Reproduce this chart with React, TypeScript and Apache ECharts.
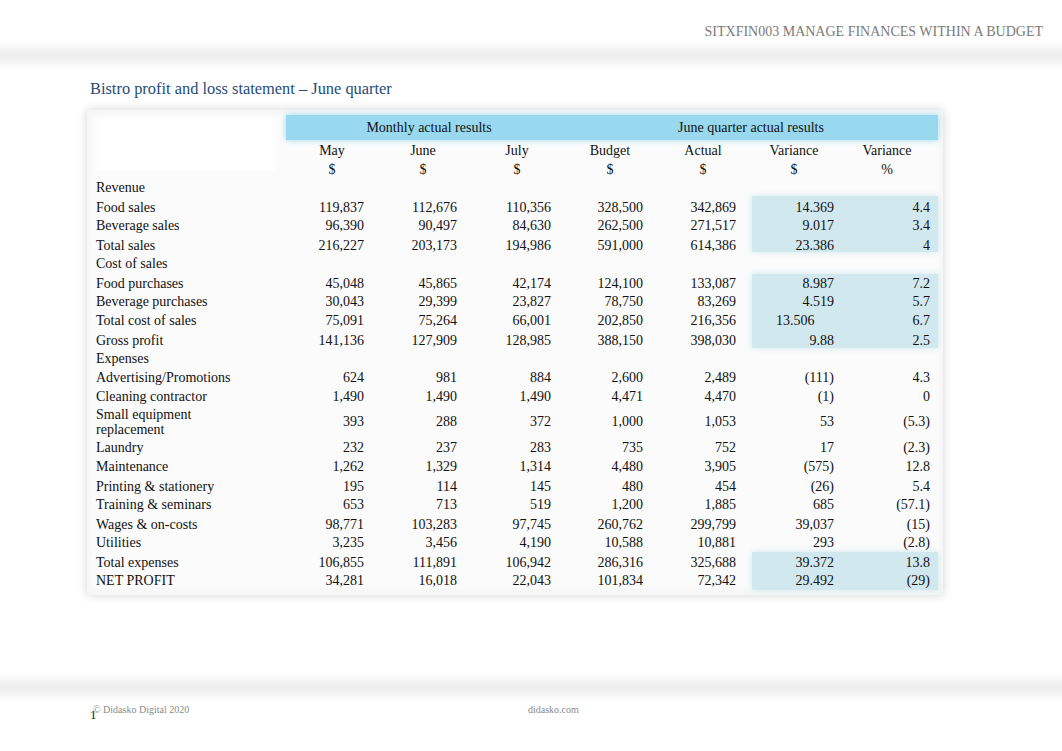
import React, { useEffect, useRef } from "react";
import * as echarts from "echarts";

// ---- Data ----
const docHeader = "SITXFIN003 MANAGE FINANCES WITHIN A BUDGET";
const tableTitle = "Bistro profit and loss statement – June quarter";
const groupHeaders = ["Monthly actual results", "June quarter actual results"];
const columnHeaders = ["May", "June", "July", "Budget", "Actual", "Variance", "Variance"];
const unitHeaders = ["$", "$", "$", "$", "$", "$", "%"];
const rowLabels = [
  "Revenue", "Food sales", "Beverage sales", "Total sales", "Cost of sales",
  "Food purchases", "Beverage purchases", "Total cost of sales", "Gross profit", "Expenses",
  "Advertising/Promotions", "Cleaning contractor", "Small equipment\nreplacement", "Laundry", "Maintenance",
  "Printing & stationery", "Training & seminars", "Wages & on-costs", "Utilities", "Total expenses", "NET PROFIT",
];
const mayValues = ["", "119,837", "96,390", "216,227", "", "45,048", "30,043", "75,091", "141,136", "", "624", "1,490", "393", "232", "1,262", "195", "653", "98,771", "3,235", "106,855", "34,281"];
const juneValues = ["", "112,676", "90,497", "203,173", "", "45,865", "29,399", "75,264", "127,909", "", "981", "1,490", "288", "237", "1,329", "114", "713", "103,283", "3,456", "111,891", "16,018"];
const julyValues = ["", "110,356", "84,630", "194,986", "", "42,174", "23,827", "66,001", "128,985", "", "884", "1,490", "372", "283", "1,314", "145", "519", "97,745", "4,190", "106,942", "22,043"];
const budgetValues = ["", "328,500", "262,500", "591,000", "", "124,100", "78,750", "202,850", "388,150", "", "2,600", "4,471", "1,000", "735", "4,480", "480", "1,200", "260,762", "10,588", "286,316", "101,834"];
const actualValues = ["", "342,869", "271,517", "614,386", "", "133,087", "83,269", "216,356", "398,030", "", "2,489", "4,470", "1,053", "752", "3,905", "454", "1,885", "299,799", "10,881", "325,688", "72,342"];
const varianceDollar = ["", "14.369", "9.017", "23.386", "", "8.987", "4.519", "13.506", "9.88", "", "(111)", "(1)", "53", "17", "(575)", "(26)", "685", "39,037", "293", "39.372", "29.492"];
const variancePercent = ["", "4.4", "3.4", "4", "", "7.2", "5.7", "6.7", "2.5", "", "4.3", "0", "(5.3)", "(2.3)", "12.8", "5.4", "(57.1)", "(15)", "(2.8)", "13.8", "(29)"];
const footerLeft = "© Didasko Digital 2020";
const footerCenter = "didasko.com";
const pageNumber = "1";

// ---- Layout (positions only) ----
const ROW_Y = [187, 207, 225, 245, 263, 283, 301, 320, 340, 358, 377, 396, 421, 447, 466, 486, 504, 524, 542, 562, 580];
const COL_RIGHT = [364, 457, 551, 643, 736, 834, 930];
const COL_CENTER = [332, 423, 517, 610, 703, 794, 887];
// cell (column, row) that is left-aligned in the original, with its left edge
const LEFT_ALIGNED_CELL = { col: 5, row: 7, x: 776 };
const FONT = '"Liberation Serif", "Times New Roman", serif';

function txt(text: string, x: number, y: number, size: number, fill: string, align = "left") {
  return {
    type: "text",
    x,
    y,
    silent: true,
    z: 10,
    style: {
      text,
      fill,
      font: `${size}px ${FONT}`,
      align,
      verticalAlign: "middle",
      textAlign: align,
      textVerticalAlign: "middle",
    },
  };
}

function band(y: number, h: number) {
  return {
    type: "rect",
    shape: { x: 0, y, width: 1062, height: h },
    silent: true,
    style: {
      fill: new echarts.graphic.LinearGradient(0, 0, 0, 1, [
        { offset: 0, color: "rgba(235,235,235,0)" },
        { offset: 0.5, color: "rgba(235,235,235,0.9)" },
        { offset: 1, color: "rgba(235,235,235,0)" },
      ]),
    },
  };
}

export default function App() {
  const ref = useRef<HTMLDivElement>(null);
  useEffect(() => {
    if (!ref.current) return;
    const chart = echarts.init(ref.current, null, { renderer: "svg" });
    const els: any[] = [];

    // background bands
    els.push(band(40, 30));
    els.push(band(672, 30));

    // table frame with soft shadow
    els.push({
      type: "rect",
      shape: { x: 87, y: 110, width: 856, height: 485 },
      silent: true,
      style: { fill: "#f5f5f5", shadowBlur: 10, shadowColor: "rgba(0,0,0,0.18)" },
    });
    els.push({
      type: "rect",
      shape: { x: 92, y: 116, width: 846, height: 472 },
      silent: true,
      style: { fill: "#fbfbfb", shadowBlur: 8, shadowColor: "rgba(255,255,255,0.9)" },
    });
    // white top-left header block
    els.push({
      type: "rect",
      shape: { x: 97, y: 120, width: 178, height: 50 },
      silent: true,
      style: { fill: "#ffffff", shadowBlur: 6, shadowColor: "rgba(255,255,255,1)" },
    });
    // blue header band
    els.push({
      type: "rect",
      shape: { x: 286, y: 115, width: 652, height: 25 },
      silent: true,
      style: { fill: "#98d9ef", shadowBlur: 6, shadowColor: "rgba(140,210,235,0.9)" },
    });
    // blue variance cell blocks
    const blocks = [[196, 56], [274, 74], [552, 38]];
    blocks.forEach(([y, h]) => {
      els.push({
        type: "rect",
        shape: { x: 752, y, width: 186, height: h },
        silent: true,
        style: { fill: "#d2e8ef", shadowBlur: 6, shadowColor: "rgba(200,228,238,0.9)" },
      });
    });

    // page header and title
    els.push(txt(docHeader, 1043, 31, 14, "#7a7a7a", "right"));
    els.push(txt(tableTitle, 90, 88, 16.4, "#1f4d78"));

    // group headers
    els.push(txt(groupHeaders[0], 429, 127, 14, "#111", "center"));
    els.push(txt(groupHeaders[1], 751, 127, 14, "#111", "center"));

    columnHeaders.forEach((h, i) => {
      els.push(txt(h, COL_CENTER[i], 150, 14, "#111", "center"));
      els.push(txt(unitHeaders[i], COL_CENTER[i], 169, 14, "#111", "center"));
    });

    const columns = [mayValues, juneValues, julyValues, budgetValues, actualValues, varianceDollar, variancePercent];
    rowLabels.forEach((label, r) => {
      if (label.includes("\n")) {
        const parts = label.split("\n");
        els.push(txt(parts[0], 96, ROW_Y[r] - 7, 14, "#111"));
        els.push(txt(parts[1], 96, ROW_Y[r] + 8, 14, "#111"));
      } else {
        els.push(txt(label, 96, ROW_Y[r], 14, "#111"));
      }
      columns.forEach((col, c) => {
        const v = col[r];
        if (!v) return;
        if (c === LEFT_ALIGNED_CELL.col && r === LEFT_ALIGNED_CELL.row) {
          els.push(txt(v, LEFT_ALIGNED_CELL.x, ROW_Y[r], 14, "#111", "left"));
        } else {
          els.push(txt(v, COL_RIGHT[c], ROW_Y[r], 14, "#111", "right"));
        }
      });
    });

    // footer
    els.push(txt(footerLeft, 93, 709, 10, "#8a8a8a"));
    els.push(txt(footerCenter, 528, 709, 10, "#8a8a8a"));
    els.push(txt(pageNumber, 90, 714, 13, "#222"));

    chart.setOption({
      animation: false,
      backgroundColor: "#ffffff",
      graphic: { elements: els },
    });
    return () => chart.dispose();
  }, []);
  return (
    <div
      ref={ref}
      style={{ position: "fixed", left: 0, top: 0, width: 1062, height: 751, background: "#fff" }}
    />
  );
}
